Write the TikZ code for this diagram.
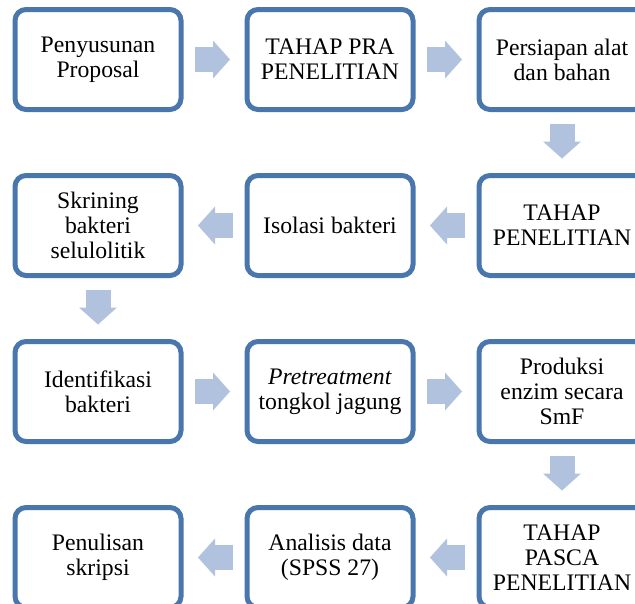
\documentclass[tikz,border=0pt]{standalone}
\usepackage{fontspec}
\setmainfont{Liberation Serif}
\usetikzlibrary{positioning,arrows.meta}
\definecolor{tepi}{HTML}{4A76AE}
\definecolor{isian}{HTML}{B0C2DE}

\begin{document}
\begin{tikzpicture}[
		x=1pt, y=1pt
		,node distance=66pt and 66pt
		,box/.style={draw=tepi, line width=5pt, rounded corners=11pt, fill=white, minimum width=166pt, minimum height=100pt, outer sep=0pt, align=center, font=\fontsize{23.7}{25}\selectfont}
		,blok/.style={draw=isian, line width=25pt, shorten <=14pt, shorten >=17pt, -{Triangle[width=38pt,length=17pt,line width=0pt]}}
	]
		\useasboundingbox (0,0) rectangle (635,-603);
		\clip (0,0) rectangle (635,-603);
		% baris 1
		\node [box] (prop) at (98,-59.5) {Penyusunan\\Proposal};
		\node [box, right=of prop] (pra) {TAHAP PRA\\PENELITIAN};
		\node [box, right=of pra] (siap) {Persiapan alat\\dan bahan};
		% baris 2
		\node [box, below=of siap] (tahap) {TAHAP\\PENELITIAN};
		\node [box, left=of tahap] (isol) {Isolasi bakteri};
		\node [box, left=of isol] (skr) {Skrining\\bakteri\\selulolitik};
		% baris 3
		\node [box, below=of skr] (iden) {Identifikasi\\bakteri};
		\node [box, right=of iden] (pre) {\textit{Pretreatment}\\tongkol jagung};
		\node [box, right=of pre] (prod) {Produksi\\enzim secara\\SmF};
		% baris 4
		\node [box, below=of prod] (pasca) {TAHAP\\PASCA\\PENELITIAN};
		\node [box, left=of pasca] (anal) {Analisis data\\(SPSS 27)};
		\node [box, left=of anal] (tulis) {Penulisan\\skripsi};

		\draw [blok] (prop) -- (pra);
		\draw [blok] (pra) -- (siap);
		\draw [blok] (siap) -- (tahap);
		\draw [blok] (tahap) -- (isol);
		\draw [blok] (isol) -- (skr);
		\draw [blok] (skr) -- (iden);
		\draw [blok] (iden) -- (pre);
		\draw [blok] (pre) -- (prod);
		\draw [blok] (prod) -- (pasca);
		\draw [blok] (pasca) -- (anal);
		\draw [blok] (anal) -- (tulis);
	\end{tikzpicture}
\end{document}
